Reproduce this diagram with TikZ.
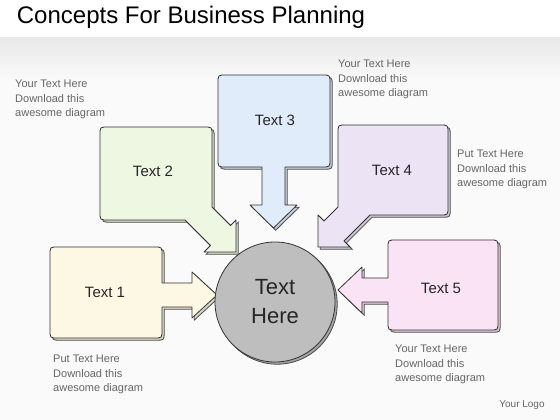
\documentclass[tikz,border=0pt]{standalone}
\usepackage{fontspec}
\setmainfont{Liberation Sans}
\definecolor{creamfill}{HTML}{FCF8E4}
\definecolor{greenfill}{HTML}{EEF7E2}
\definecolor{bluefill}{HTML}{E0ECFA}
\definecolor{lilacfill}{HTML}{ECE3F4}
\definecolor{pinkfill}{HTML}{FBE3F6}
\definecolor{hubfill}{HTML}{BEBEBE}
\tikzstyle{callout}=[draw=black!80, line width=0.8pt, line join=round]
\tikzset{bubble/.style={callout, fill=#1,
    preaction={fill=#1!86!black, draw=black!70, line width=0.8pt,
      transform canvas={shift={(2.2pt,-2.2pt)}}}}}
\tikzstyle{boxtext}=[font=\fontsize{15}{18}\selectfont, text=black!85]
\tikzstyle{blurb}=[anchor=north west, align=left, inner sep=0pt,
  font=\fontsize{11}{14.5}\selectfont, text=black!60]

\begin{document}
\begin{tikzpicture}[x=1pt, y=-1pt]
\useasboundingbox (0,0) rectangle (560,420);
% Background
    \fill[white] (0,0) rectangle (560,420);
    \shade[top color=black!9, bottom color=black!2] (0,38) rectangle (560,80);
    \fill[black!2] (0,80) rectangle (560,420);
    \node[font=\fontsize{24}{28}\selectfont] (title) at (191,17) {Concepts For Business Planning};
% Callout 1
    \draw[bubble=creamfill] (50,255) .. controls (50,247) .. (58,247) -- (154,247)
        .. controls (162,247) .. (162,255) -- (162,283) -- (192,283) -- (192,272)
        -- (217,295) -- (192,318) -- (192,307) -- (162,307) -- (162,330)
        .. controls (162,338) .. (154,338) -- (58,338) .. controls (50,338) .. (50,330) -- cycle;
% Callout 2
    \draw[bubble=greenfill] (100,135) .. controls (100,127) .. (108,127) -- (204,127)
        .. controls (212,127) .. (212,135) -- (212,207) -- (230.5,225.5) -- (236,220)
        -- (236,252) -- (204,252) -- (210.5,245.5) -- (185,220) -- (108,220)
        .. controls (100,220) .. (100,212) -- cycle;
% Callout 3
    \draw[bubble=bluefill] (218,83) .. controls (218,75) .. (226,75) -- (322,75)
        .. controls (330,75) .. (330,83) -- (330,159) .. controls (330,167) .. (322,167)
        -- (285,167) -- (285,205) -- (297,205) -- (273.5,228) -- (250,205) -- (262,205)
        -- (262,167) -- (226,167) .. controls (218,167) .. (218,159) -- cycle;
% Callout 4
    \draw[bubble=lilacfill] (338,133) .. controls (338,125) .. (346,125) -- (440,125)
        .. controls (448,125) .. (448,133) -- (448,207) .. controls (448,215) .. (440,215)
        -- (370,215) -- (344,241) -- (350,247) -- (318,247) -- (318,215) -- (324,221)
        -- (338,207) -- cycle;
% Callout 5
    \draw[bubble=pinkfill] (388,248) .. controls (388,240) .. (396,240) -- (490,240)
        .. controls (498,240) .. (498,248) -- (498,322) .. controls (498,330) .. (490,330)
        -- (396,330) .. controls (388,330) .. (388,322) -- (388,302) -- (362,302)
        -- (362,313) -- (338,290) -- (362,267) -- (362,278) -- (388,278) -- cycle;
% Centre
    \node[circle, minimum size=120pt, bubble=hubfill, align=center,
        font=\fontsize{22}{29}\selectfont, text=black!85] (hub) at (275,302) {Text\\Here};
% Box labels
    \node[boxtext] (t1) at (105,292) {Text 1};
    \node[boxtext] (t2) at (153,171) {Text 2};
    \node[boxtext] (t3) at (275,120) {Text 3};
    \node[boxtext] (t4) at (392,170) {Text 4};
    \node[boxtext] (t5) at (441,288) {Text 5};
% Notes
    \node[blurb] (n1) at (15,80) {Your Text Here\\Download this\\awesome diagram};
    \node[blurb] (n3) at (338,60) {Your Text Here\\Download this\\awesome diagram};
    \node[blurb] (n4) at (457,150) {Put Text Here\\Download this\\awesome diagram};
    \node[blurb] (n2) at (53,355) {Put Text Here\\Download this\\awesome diagram};
    \node[blurb] (n5) at (395,345) {Your Text Here\\Download this\\awesome diagram};
    \node[font=\fontsize{10}{12}\selectfont, text=black!60] (logo) at (522,405) {Your Logo};
\end{tikzpicture}
\end{document}
